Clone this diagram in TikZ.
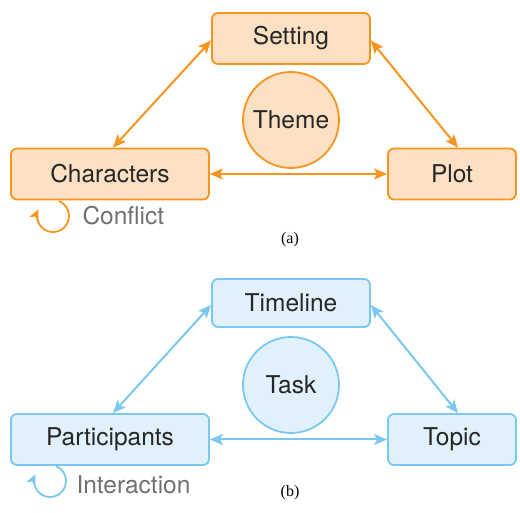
\documentclass[tikz,border=0pt]{standalone}
\usepackage{fontspec}
\setmainfont{TeX Gyre Heros}
\newfontfamily\capfont{Liberation Serif}
\usepackage{tikz}
\usetikzlibrary{arrows.meta}
\definecolor{orln}{RGB}{247,148,30}
\definecolor{orfl}{RGB}{252,224,196}
\definecolor{blln}{RGB}{122,200,240}
\definecolor{blfl}{RGB}{224,241,252}
\definecolor{note}{RGB}{112,112,112}
\tikzset{
x=1pt,y=1pt,
box/.style={
  rectangle,
  rounded corners=6pt,
  line width=1.8pt,
  minimum height=51pt,
  font=\fontsize{24.5}{26}\selectfont,
  text=black!85
},
hub/.style={circle,line width=1.8pt,minimum size=96pt,inner sep=0pt,font=\fontsize{24.5}{26}\selectfont,text=black!85},
link/.style={line width=2pt,{Stealth[length=13pt,width=11pt,inset=3pt]}-{Stealth[length=13pt,width=11pt,inset=3pt]}},
selfloop/.style={line width=1.8pt,-{Stealth[length=11pt,width=10pt,inset=3pt]}},
note/.style={text=note,font=\fontsize{24.5}{26}\selectfont,anchor=west},
sub/.style={font=\capfont\fontsize{16}{18}\selectfont}
}
\begin{document}
\begin{tikzpicture}
\useasboundingbox (0,0) rectangle (520,513);
% (a) story
\begin{scope}[every node/.append style={draw=orln,fill=orfl}]
\node[box,minimum width=158pt] (set) at (291,474.5) {Setting};
\node[box,minimum width=198pt] (chr) at (110,339) {Characters};
\node[box,minimum width=128pt] (plt) at (452,339) {Plot};
\node[hub] (thm) at (291,393) {Theme};
\end{scope}
\draw[link,orln] ([yshift=-2pt]set.west) -- ([xshift=3pt]chr.north);
\draw[link,orln] ([yshift=-2pt]set.east) -- ([xshift=6pt]plt.north);
\draw[link,orln] (chr.east) -- (plt.west);
\coordinate (cfl) at (53,297);
\draw[selfloop,orln] ([shift={(68:16)}]cfl) arc (68:-205:16);
\node[note] (cft) at (79,297) {Conflict};
\node[sub] (capa) at (290,273) {(a)};
% (b) task
\begin{scope}[every node/.append style={draw=blln,fill=blfl}]
\node[box,minimum width=158pt,minimum height=48pt] (tml) at (291,210) {Timeline};
\node[box,minimum width=198pt] (prt) at (110,73.5) {Participants};
\node[box,minimum width=128pt] (tpc) at (452,73.5) {Topic};
\node[hub] (tsk) at (291,128) {Task};
\end{scope}
\draw[link,blln] ([yshift=-2pt]tml.west) -- ([xshift=3pt]prt.north);
\draw[link,blln] ([yshift=-2pt]tml.east) -- ([xshift=6pt]tpc.north);
\draw[link,blln] (prt.east) -- (tpc.west);
\coordinate (itr) at (50,32);
\draw[selfloop,blln] ([shift={(68:16)}]itr) arc (68:-205:16);
\node[note] (itt) at (73,28) {Interaction};
\node[sub] (capb) at (290,20) {(b)};
\end{tikzpicture}
\end{document}
